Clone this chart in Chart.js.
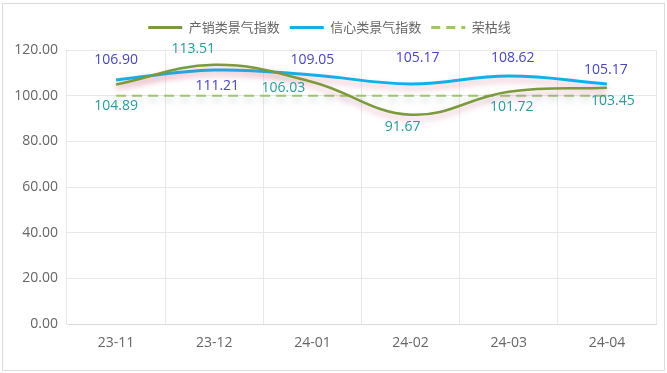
<!DOCTYPE html>
<html>
<head>
<meta charset="utf-8">
<script src="https://cdn.jsdelivr.net/npm/chart.js@4.4.1/dist/chart.umd.min.js"></script>
<style>
html,body{margin:0;padding:0;background:#fff;}
#box{position:absolute;left:2px;top:3px;width:663px;height:368px;box-sizing:border-box;border:1px solid #dcdcdc;}
#box canvas{display:block;}
</style>
</head>
<body>
<div id="box"><canvas id="c"></canvas></div>
<script>
const categories = ['23-11','23-12','24-01','24-02','24-03','24-04'];
const salesIndex = [104.89, 113.51, 106.03, 91.67, 101.72, 103.45];
const confidenceIndex = [106.90, 111.21, 109.05, 105.17, 108.62, 105.17];
const boomLine = [100, 100, 100, 100, 100, 100];
const seriesNames = ['产销类景气指数','信心类景气指数','荣枯线'];
const yTicks = {min: 0, max: 120, step: 20};

// label offsets relative to the point (style, not data)
const labelOffsets = [
  [[0,21],[-21,-16],[-29,6],[-8,12],[3,15],[6,13]],
  [[0,-20],[3,16],[0,-15],[7,-26],[4,-18],[-1,-14]]
];
const labelColors = ['#2a9a9c', '#4846bf'];

const legendGap = {
  id: 'legendGap',
  beforeInit(chart) {
    const orig = chart.legend.fit;
    chart.legend.fit = function () {
      orig.call(this);
      this.height += 6;
    };
  }
};

const shadowPlugin = {
  id: 'shadow',
  beforeDatasetDraw(chart, args) {
    const ctx = chart.ctx;
    ctx.save();
    if (args.index === 2) {
      ctx.shadowColor = 'rgba(90,120,160,0.35)';
    } else {
      ctx.shadowColor = 'rgba(200,90,120,0.45)';
    }
    ctx.shadowBlur = 6;
    ctx.shadowOffsetY = 4;
  },
  afterDatasetDraw(chart) {
    chart.ctx.restore();
  }
};

const labelPlugin = {
  id: 'valueLabels',
  afterDatasetsDraw(chart) {
    const ctx = chart.ctx;
    ctx.save();
    ctx.font = '14px "Open Sans", "Noto Sans", sans-serif';
    ctx.textAlign = 'center';
    ctx.textBaseline = 'middle';
    [0,1].forEach(di => {
      const meta = chart.getDatasetMeta(di);
      const vals = chart.data.datasets[di].data;
      ctx.fillStyle = labelColors[di];
      meta.data.forEach((pt, i) => {
        const off = labelOffsets[di][i];
        ctx.fillText(vals[i].toFixed(2), pt.x + off[0], pt.y + off[1]);
      });
    });
    ctx.restore();
  }
};

new Chart(document.getElementById('c'), {
  type: 'line',
  data: {
    labels: categories,
    datasets: [
      {label: seriesNames[0], data: salesIndex, borderColor: '#7a9a3c', backgroundColor: '#7a9a3c', borderWidth: 2.5, tension: 0.4, pointRadius: 0, pointHoverRadius: 0, pointStyle: 'line', fill: false},
      {label: seriesNames[1], data: confidenceIndex, borderColor: '#12b0ea', backgroundColor: '#12b0ea', borderWidth: 3, tension: 0.4, pointRadius: 0, pointHoverRadius: 0, pointStyle: 'line', fill: false},
      {label: seriesNames[2], data: boomLine, borderColor: '#9fc46c', backgroundColor: '#9fc46c', borderWidth: 2, borderDash: [10,6], tension: 0, pointRadius: 0, pointHoverRadius: 0, pointStyle: 'line', fill: false}
    ]
  },
  options: {
    responsive: true,
    maintainAspectRatio: false,
    animation: false,
    layout: {padding: {left: 0, right: 8, top: 7, bottom: 9}},
    plugins: {
      tooltip: {enabled: false},
      legend: {
        position: 'top',
        labels: {
          usePointStyle: true,
          pointStyleWidth: 34,
          boxHeight: 12,
          padding: 10,
          color: '#666',
          font: {size: 13, family: '"Noto Sans CJK SC", sans-serif'},
          generateLabels(chart) {
            const items = Chart.defaults.plugins.legend.labels.generateLabels(chart);
            items.forEach((it, i) => {
              it.lineWidth = 3;
              it.strokeStyle = chart.data.datasets[i].borderColor;
              it.lineDash = i === 2 ? [9, 6] : [];
            });
            return items;
          }
        }
      }
    },
    scales: {
      x: {
        offset: true,
        grid: {color: '#e8e8e8', drawTicks: false, offset: true},
        border: {color: '#dcdcdc'},
        ticks: {color: '#666', padding: 10, font: {size: 14, family: '"Open Sans", sans-serif'}}
      },
      y: {
        min: yTicks.min, max: yTicks.max,
        afterFit(scale) { scale.width = 64; },
        grid: {color: '#e8e8e8', drawTicks: false},
        border: {display: false},
        ticks: {stepSize: yTicks.step, color: '#666', padding: 9, font: {size: 14, family: '"Open Sans", sans-serif'}, callback: v => Number(v).toFixed(2)}
      }
    }
  },
  plugins: [legendGap, shadowPlugin, labelPlugin]
});
</script>
</body>
</html>
